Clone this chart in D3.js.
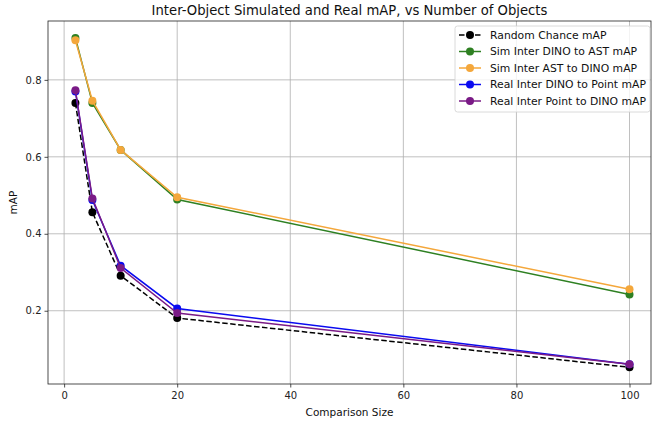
<!DOCTYPE html>
<html>
<head>
<meta charset="utf-8">
<script src="https://cdn.jsdelivr.net/npm/d3@7"></script>
<style>
  body { margin: 0; background: #fff; }
  svg { font-family: "DejaVu Sans", sans-serif; }
</style>
</head>
<body>
<svg id="chart" width="652" height="421"></svg>
<script>
// comparison sizes on the x axis
var sizes = [2, 5, 10, 20, 100];

var randomChance = [0.740, 0.456, 0.291, 0.181, 0.053];
var simDinoToAst = [0.909, 0.740, 0.618, 0.489, 0.242];
var simAstToDino = [0.903, 0.746, 0.618, 0.495, 0.256];
var realDinoToPoint = [0.770, 0.488, 0.317, 0.206, 0.061];
var realPointToDino = [0.773, 0.492, 0.311, 0.194, 0.061];

var seriesNames = [
  "Random Chance mAP",
  "Sim Inter DINO to AST mAP",
  "Sim Inter AST to DINO mAP",
  "Real Inter DINO to Point mAP",
  "Real Inter Point to DINO mAP"
];
var seriesColors = ["#000000", "#2e8022", "#f4a73b", "#0a0af0", "#7a1a86"];

var xTicks = [0, 20, 40, 60, 80, 100];
var yTicks = [0.2, 0.4, 0.6, 0.8];

var series = [randomChance, simDinoToAst, simAstToDino, realDinoToPoint, realPointToDino]
  .map(function(vals, i) {
    return {
      name: seriesNames[i],
      color: seriesColors[i],
      dashed: i === 0,
      points: vals.map(function(v, j) { return { x: sizes[j], y: v }; })
    };
  });

var svg = d3.select("#chart"),
  plotLeft = 48, plotRight = 651, plotTop = 21, plotBottom = 384;

var x = d3.scaleLinear().domain([-2.85, 103.8]).range([plotLeft, plotRight]),
  y = d3.scaleLinear().domain([0.0096, 0.953]).range([plotBottom, plotTop]);

// grid
var grid = svg.append("g").attr("stroke", "#b0b0b0").attr("stroke-width", 0.8);
xTicks.forEach(function(t) {
  grid.append("line").attr("x1", x(t)).attr("x2", x(t)).attr("y1", plotTop).attr("y2", plotBottom);
});
yTicks.forEach(function(t) {
  grid.append("line").attr("x1", plotLeft).attr("x2", plotRight).attr("y1", y(t)).attr("y2", y(t));
});

// axes
var xAxis = svg.append("g")
  .attr("transform", "translate(0," + plotBottom + ")")
  .call(d3.axisBottom(x).tickValues(xTicks).tickSize(3.5).tickPadding(4).tickFormat(d3.format("d")));
var yAxis = svg.append("g")
  .attr("transform", "translate(" + plotLeft + ",0)")
  .call(d3.axisLeft(y).tickValues(yTicks).tickSize(3.5).tickPadding(3).tickFormat(d3.format(".1f")));
[xAxis, yAxis].forEach(function(a) {
  a.select(".domain").remove();
  a.selectAll("text").attr("font-size", 10).attr("fill", "#222").attr("font-family", "DejaVu Sans");
  a.selectAll("line").attr("stroke", "#222").attr("stroke-width", 0.8);
});

svg.append("rect")
  .attr("x", plotLeft).attr("y", plotTop)
  .attr("width", plotRight - plotLeft).attr("height", plotBottom - plotTop)
  .attr("fill", "none").attr("stroke", "#222").attr("stroke-width", 0.8);

// lines
var line = d3.line().x(function(d) { return x(d.x); }).y(function(d) { return y(d.y); });

var g = svg.append("g");
series.forEach(function(s) {
  g.append("path")
    .datum(s.points)
    .attr("d", line)
    .attr("fill", "none")
    .attr("stroke", s.color)
    .attr("stroke-width", 1.5)
    .attr("stroke-dasharray", s.dashed ? "5.5,2.5" : null);
  g.selectAll(null)
    .data(s.points)
    .enter().append("circle")
    .attr("cx", function(d) { return x(d.x); })
    .attr("cy", function(d) { return y(d.y); })
    .attr("r", 4)
    .attr("fill", s.color);
});

// title & labels
svg.append("text")
  .attr("x", (plotLeft + plotRight) / 2).attr("y", 15)
  .attr("text-anchor", "middle").attr("font-size", 13.2).attr("fill", "#111")
  .text("Inter-Object Simulated and Real mAP, vs Number of Objects");
svg.append("text")
  .attr("x", (plotLeft + plotRight) / 2).attr("y", 416)
  .attr("text-anchor", "middle").attr("font-size", 10.5).attr("fill", "#111")
  .text("Comparison Size");
svg.append("text")
  .attr("transform", "translate(17," + ((plotTop + plotBottom) / 2) + ") rotate(-90)")
  .attr("text-anchor", "middle").attr("font-size", 10.5).attr("fill", "#111")
  .text("mAP");

// legend
var legend = svg.append("g").attr("transform", "translate(455,26)");
legend.append("rect")
  .attr("width", 195).attr("height", 86).attr("rx", 2.5)
  .attr("fill", "#fff").attr("fill-opacity", 0.8)
  .attr("stroke", "#d0d0d0").attr("stroke-width", 0.8);
var keys = legend.selectAll(".key")
  .data(series)
  .enter().append("g")
  .attr("class", "key")
  .attr("transform", function(d, i) { return "translate(0," + (9 + i * 16.5) + ")"; });
keys.append("line")
  .attr("x1", 4).attr("x2", 26)
  .attr("stroke", function(d) { return d.color; })
  .attr("stroke-width", 1.5)
  .attr("stroke-dasharray", function(d) { return d.dashed ? "5.5,2.5" : null; });
keys.append("circle").attr("cx", 15).attr("r", 4).attr("fill", function(d) { return d.color; });
keys.append("text")
  .attr("x", 35).attr("dy", "0.35em")
  .attr("font-size", 10.8).attr("fill", "#111")
  .text(function(d) { return d.name; });
</script>
</body>
</html>
